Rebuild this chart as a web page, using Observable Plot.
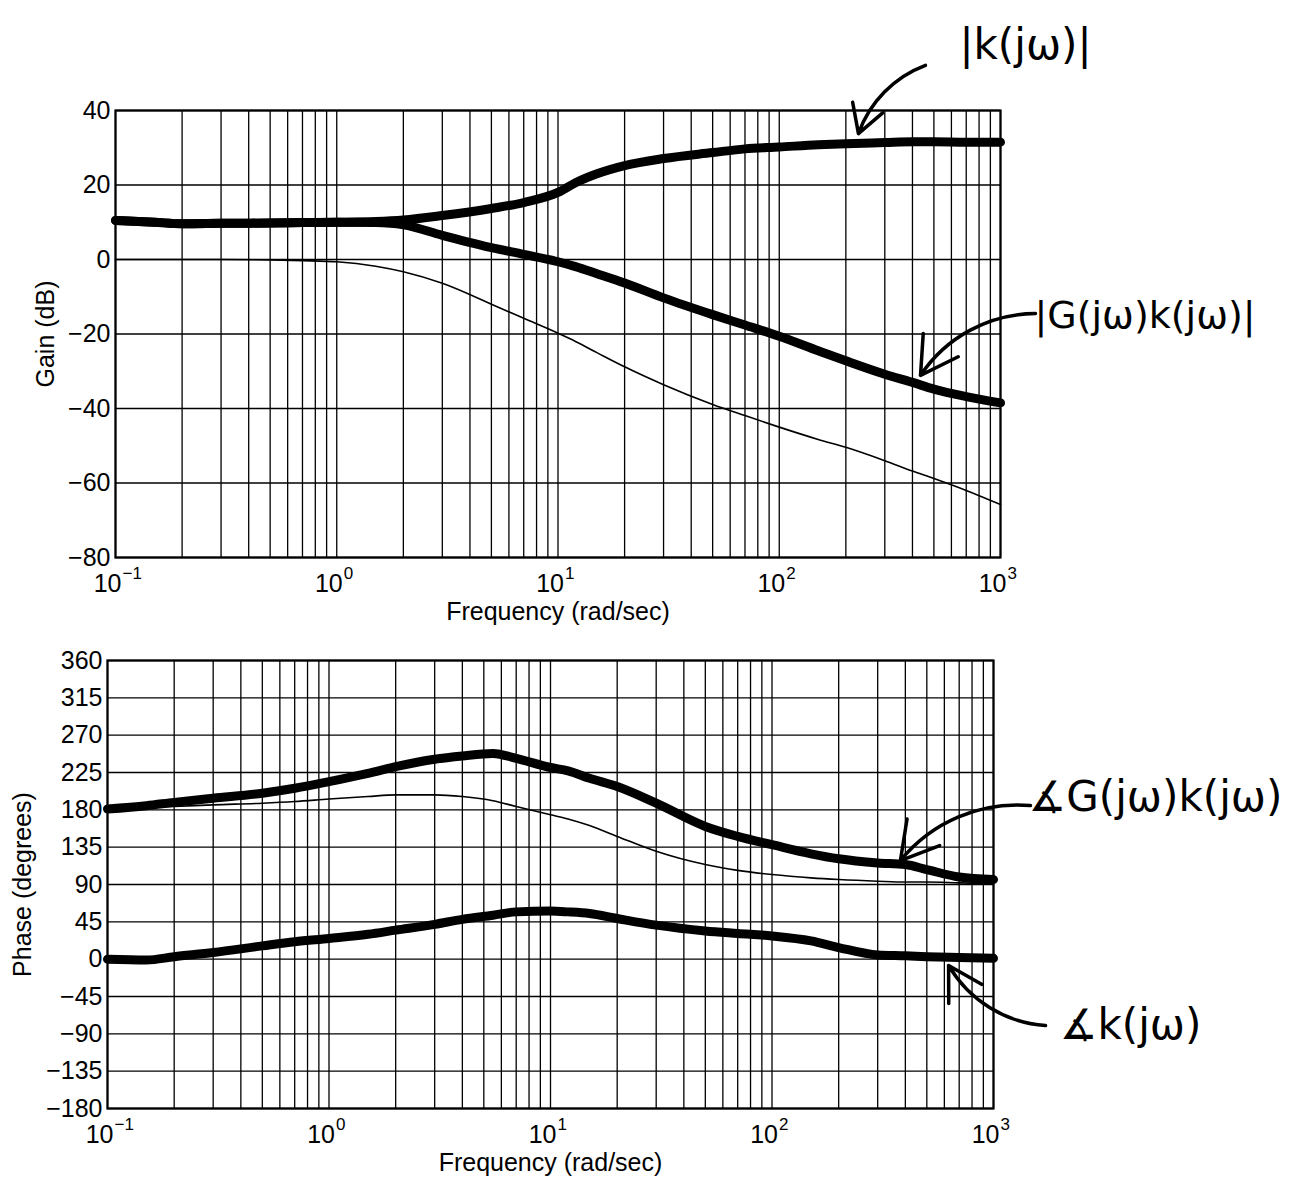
<!DOCTYPE html>
<html>
<head>
<meta charset="utf-8">
<script src="https://cdn.jsdelivr.net/npm/d3@7"></script>
<script src="https://cdn.jsdelivr.net/npm/@observablehq/plot@0.6"></script>
<style>
  html, body { margin: 0; padding: 0; background: #fff; }
  #wrap { position: relative; width: 1293px; height: 1189px; background: #fff; }
  #wrap svg { display: block; }
</style>
</head>
<body>
<div id="wrap"></div>
<script>
// ---------- data ----------
const decades = [0.1, 1, 10, 100, 1000];
const decadeExp = ["\u22121", "0", "1", "2", "3"];
const gainTicks = [-80, -60, -40, -20, 0, 20, 40];
const phaseTicks = [-180, -135, -90, -45, 0, 45, 90, 135, 180, 225, 270, 315, 360];

// Gain panel
const freqGain = [0.1, 0.15, 0.2, 0.3, 0.5, 0.7, 1, 1.5, 2, 3, 5, 7, 10, 12, 15, 20, 30, 50, 70, 100, 150, 200, 300, 400, 500, 700, 1000];
const gainK  = [10.5, 10, 9.6, 9.7, 9.8, 9.9, 10, 10.2, 10.6, 11.8, 13.7, 15.3, 18, 20.6, 23, 25.2, 27.1, 28.7, 29.7, 30.2, 30.8, 31.1, 31.4, 31.6, 31.6, 31.5, 31.5];
const gainGK = [10.5, 10, 9.6, 9.7, 9.8, 9.9, 10, 9.9, 9.3, 6.5, 3.2, 1.4, -0.6, -1.9, -3.8, -6.3, -10.3, -14.8, -17.6, -20.6, -24.5, -27.2, -30.8, -33, -34.8, -36.8, -38.5];
const gainG  = [0, 0, 0, 0, -0.1, -0.3, -0.6, -1.8, -3.3, -6.4, -12, -15.8, -19.8, -22, -25, -28.8, -33.6, -38.9, -41.9, -45, -48.3, -50.4, -54, -56.8, -58.8, -62, -65.8];

// Phase panel
const freqPhase = [0.1, 0.15, 0.2, 0.3, 0.5, 0.7, 1, 1.5, 2, 3, 4, 5.5, 7, 10, 12, 15, 20, 30, 50, 70, 100, 150, 200, 300, 400, 500, 700, 1000];
const phaseGK = [181, 185, 189, 194, 200, 206, 214, 224, 232, 241, 245, 248, 242, 231, 227, 218, 208, 188, 160, 148, 138, 127, 121, 116, 114, 108, 99, 96];
const phaseG  = [181, 183, 184, 186, 188, 190, 193, 196, 198, 198, 196, 191, 184, 174, 169, 161, 148, 130, 114, 107, 102, 98, 96, 94, 93, 93, 92, 91];
const phaseK  = [0, -1, 3, 8, 16, 21, 25, 30, 35, 42, 48, 53, 57, 58, 57, 55, 49, 41, 34, 31, 28, 22, 14, 5, 4, 3, 2, 1];

// annotations (data coordinates)
const gainNotes = [
  {label: "|k(j\u03c9)|", f: 1297, v: 57.4, size: 42},
  {label: "|G(j\u03c9)k(j\u03c9)|", f: 4500, v: -15.0, size: 38}
];
const gainArrowK  = [{f1: 458, v1: 52.1, f2: 228, v2: 33.8}];
const gainArrowGK = [{f1: 1439, v1: -14.5, f2: 435, v2: -31.1}];
const phaseNotes = [
  {label: "\u2221G(j\u03c9)k(j\u03c9)", f: 5387, v: 194.9, size: 42},
  {label: "\u2221k(j\u03c9)", f: 4159, v: -80, size: 42}
];
const phaseArrowGK = [{f1: 1468, v1: 185.2, f2: 380, v2: 118.9}];
const phaseArrowK  = [{f1: 1718, v1: -80, f2: 627, v2: -7.6}];

// ---------- helpers ----------
const gridFreqs = [];
for (let e = -1; e < 3; e++) for (let m = 1; m < 10; m++) gridFreqs.push(m * Math.pow(10, e));
gridFreqs.push(1000);

function tidy(freqs, seriesList) {
  const rows = [];
  for (const [name, vals, w] of seriesList) freqs.forEach((f, i) => rows.push({f, v: vals[i], s: name, w}));
  return rows;
}
const gainRows = tidy(freqGain, [["G", gainG, 1.6], ["K", gainK, 9], ["GK", gainGK, 9]]);
const phaseRows = tidy(freqPhase, [["G", phaseG, 1.6], ["GK", phaseGK, 9], ["K", phaseK, 9]]);

const FONT = "'Liberation Sans', Arial, Helvetica, sans-serif";
const HAND = "'DejaVu Sans', sans-serif";

function arrowMark(data, bend) {
  return Plot.arrow(data, {x1: "f1", y1: "v1", x2: "f2", y2: "v2", bend, stroke: "black", strokeWidth: 3.5, headLength: 18});
}

function panel({height, mt, mb, ml, mr, ydomain, yticks, rows, ylabel, ylabelDx, notes, arrows}) {
  const thin = rows.filter(d => d.w < 5);
  const bold = rows.filter(d => d.w >= 5);
  return Plot.plot({
    width: 1293, height,
    marginTop: mt, marginBottom: mb, marginLeft: ml, marginRight: mr,
    x: {type: "log", domain: [0.1, 1000], axis: null},
    y: {domain: ydomain, axis: null},
    style: {fontFamily: FONT, background: "white", color: "black", overflow: "visible"},
    marks: [
      Plot.ruleX(gridFreqs, {x: d => d, stroke: "black", strokeWidth: 1.3}),
      Plot.ruleY(yticks, {y: d => d, stroke: "black", strokeWidth: 1.3}),
      Plot.frame({stroke: "black", strokeWidth: 2.2}),
      Plot.line(thin, {x: "f", y: "v", z: "s", stroke: "black", strokeWidth: 1.6, curve: "monotone-x"}),
      Plot.line(bold, {x: "f", y: "v", z: "s", stroke: "black", strokeWidth: 9, curve: "monotone-x", strokeLinecap: "round", strokeLinejoin: "round"}),
      // y tick labels
      Plot.text(yticks, {y: d => d, text: d => String(d).replace("-", "\u2212"), frameAnchor: "left", textAnchor: "end", dx: -5, fontSize: 25}),
      // x tick labels: 10 with superscript exponent
      Plot.text(decades, {x: d => d, text: () => "10", frameAnchor: "bottom", textAnchor: "end", dx: 6, dy: 34, fontSize: 25}),
      Plot.text(decades, {x: d => d, text: (d, i) => decadeExp[i], frameAnchor: "bottom", textAnchor: "start", dx: 7, dy: 21, fontSize: 17}),
      // axis labels
      Plot.text(["Frequency (rad/sec)"], {text: d => d, frameAnchor: "bottom", textAnchor: "middle", dy: 62, fontSize: 25}),
      Plot.text([ylabel], {text: d => d, frameAnchor: "left", textAnchor: "middle", dx: ylabelDx, rotate: -90, fontSize: 25}),
      // annotations
      Plot.text(notes, {x: "f", y: "v", text: "label", fontFamily: HAND, fontSize: d => d.size}),
      ...arrows
    ]
  });
}

const topSvg = panel({
  height: 640, mt: 110, mb: 83, ml: 115, mr: 293,
  ydomain: [-80, 40], yticks: gainTicks, rows: gainRows,
  ylabel: "Gain (dB)", ylabelDx: -70, notes: gainNotes,
  arrows: [arrowMark(gainArrowK, -25), arrowMark(gainArrowGK, -28)]
});
const botSvg = panel({
  height: 549, mt: 20, mb: 81, ml: 107, mr: 300,
  ydomain: [-180, 360], yticks: phaseTicks, rows: phaseRows,
  ylabel: "Phase (degrees)", ylabelDx: -85, notes: phaseNotes,
  arrows: [arrowMark(phaseArrowGK, -28), arrowMark(phaseArrowK, 28)]
});
const wrap = document.getElementById("wrap");
wrap.appendChild(topSvg);
wrap.appendChild(botSvg);
</script>
</body>
</html>
